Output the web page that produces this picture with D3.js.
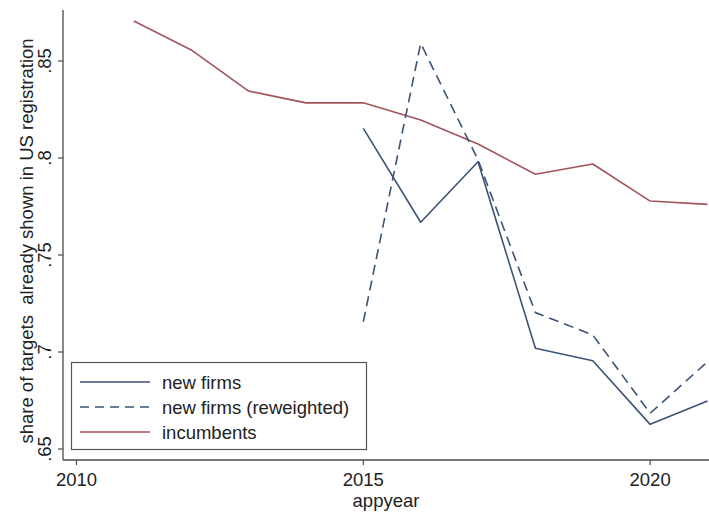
<!DOCTYPE html>
<html>
<head>
<meta charset="utf-8">
<script src="https://cdn.jsdelivr.net/npm/d3@7"></script>
<style>
  html, body { margin: 0; padding: 0; background: #fff; }
  svg { display: block; font-family: "Liberation Sans", Arial, sans-serif; }
</style>
</head>
<body>
<svg id="chart" width="709" height="513"></svg>
<script>
// Years on the horizontal axis
const years = [2011, 2012, 2013, 2014, 2015, 2016, 2017, 2018, 2019, 2020, 2021];
const newYears = [2015, 2016, 2017, 2018, 2019, 2020, 2021];

// Share of targets already shown in US registration
const incumbents = [0.8706, 0.8557, 0.8345, 0.8284, 0.8285, 0.8196, 0.8072, 0.7916, 0.7969, 0.7778, 0.7761];
const newFirms = [0.8153, 0.7669, 0.7981, 0.7019, 0.6955, 0.6627, 0.6747];
const newFirmsReweighted = [0.7156, 0.8591, 0.7990, 0.7203, 0.7088, 0.6684, 0.6950];

const xTicks = [2010, 2015, 2020];
const yTicks = [0.65, 0.7, 0.75, 0.8, 0.85];
const yTickLabels = [".65", ".7", ".75", ".8", ".85"];

const legendLabels = ["new firms", "new firms (reweighted)", "incumbents"];

const blue = "#3b5475";
const red = "#a2545a";
const axisColor = "#4a4a4a";
const textColor = "#222";
const fontSize = 18.5;

const svg = d3.select("#chart");

const x = d3.scaleLinear().domain([2010, 2021]).range([76.5, 707.5]);
const y = d3.scaleLinear().domain([0.65, 0.85]).range([449, 61]);

const plotLeft = 63, plotRight = 709, plotTop = 10, plotBottom = 460;

// Axis lines
svg.append("line")
  .attr("x1", plotLeft).attr("x2", plotLeft)
  .attr("y1", plotTop).attr("y2", plotBottom)
  .attr("stroke", axisColor).attr("stroke-width", 1.3);
svg.append("line")
  .attr("x1", plotLeft).attr("x2", plotRight)
  .attr("y1", plotBottom).attr("y2", plotBottom)
  .attr("stroke", axisColor).attr("stroke-width", 1.3);

// Y axis ticks and rotated labels
const yg = svg.append("g");
yTicks.forEach((t, i) => {
  yg.append("line")
    .attr("x1", plotLeft - 5).attr("x2", plotLeft)
    .attr("y1", y(t)).attr("y2", y(t))
    .attr("stroke", axisColor).attr("stroke-width", 1.2);
  yg.append("text")
    .attr("transform", `translate(${plotLeft - 12},${y(t)}) rotate(-90)`)
    .attr("text-anchor", "middle")
    .attr("font-size", fontSize)
    .attr("fill", textColor)
    .text(yTickLabels[i]);
});

// X axis ticks and labels
const xg = svg.append("g");
xTicks.forEach(t => {
  xg.append("line")
    .attr("x1", x(t)).attr("x2", x(t))
    .attr("y1", plotBottom).attr("y2", plotBottom + 5)
    .attr("stroke", axisColor).attr("stroke-width", 1.2);
  xg.append("text")
    .attr("x", x(t)).attr("y", plotBottom + 26)
    .attr("text-anchor", "middle")
    .attr("font-size", fontSize)
    .attr("fill", textColor)
    .text(t);
});

// Axis titles
svg.append("text")
  .attr("x", (plotLeft + plotRight) / 2).attr("y", 507)
  .attr("text-anchor", "middle")
  .attr("font-size", fontSize)
  .attr("fill", textColor)
  .text("appyear");

svg.append("text")
  .attr("transform", `translate(33,${(plotTop + plotBottom) / 2 + 6}) rotate(-90)`)
  .attr("text-anchor", "middle")
  .attr("font-size", fontSize)
  .attr("fill", textColor)
  .style("white-space", "pre")
  .text("share of targets  already shown in US registration");

// Lines
const line = d3.line().x(d => x(d[0])).y(d => y(d[1]));
svg.append("clipPath").attr("id", "plotclip")
  .append("rect").attr("x", plotLeft).attr("y", 0)
  .attr("width", plotRight - plotLeft).attr("height", plotBottom);

const plot = svg.append("g").attr("clip-path", "url(#plotclip)");

plot.append("path")
  .datum(years.map((yr, i) => [yr, incumbents[i]]))
  .attr("d", line)
  .attr("fill", "none").attr("stroke", red).attr("stroke-width", 1.6)
  .attr("stroke-linejoin", "round");

plot.append("path")
  .datum(newYears.map((yr, i) => [yr, newFirmsReweighted[i]]))
  .attr("d", line)
  .attr("fill", "none").attr("stroke", blue).attr("stroke-width", 1.6)
  .attr("stroke-dasharray", "10,6");

plot.append("path")
  .datum(newYears.map((yr, i) => [yr, newFirms[i]]))
  .attr("d", line)
  .attr("fill", "none").attr("stroke", blue).attr("stroke-width", 1.6)
  .attr("stroke-linejoin", "round");

// Legend
const lg = svg.append("g");
lg.append("rect")
  .attr("x", 71.5).attr("y", 362.5).attr("width", 295).attr("height", 87)
  .attr("fill", "#fff").attr("stroke", "#555").attr("stroke-width", 1.2);
const legendStyles = [
  { color: blue, dash: null },
  { color: blue, dash: "9,6" },
  { color: red, dash: null }
];
legendLabels.forEach((lab, i) => {
  const ly = 382 + i * 25;
  lg.append("line")
    .attr("x1", 80).attr("x2", 150).attr("y1", ly).attr("y2", ly)
    .attr("stroke", legendStyles[i].color).attr("stroke-width", 1.6)
    .attr("stroke-dasharray", legendStyles[i].dash);
  lg.append("text")
    .attr("x", 162).attr("y", ly + 6.5)
    .attr("font-size", fontSize)
    .attr("fill", textColor)
    .text(lab);
});
</script>
</body>
</html>
